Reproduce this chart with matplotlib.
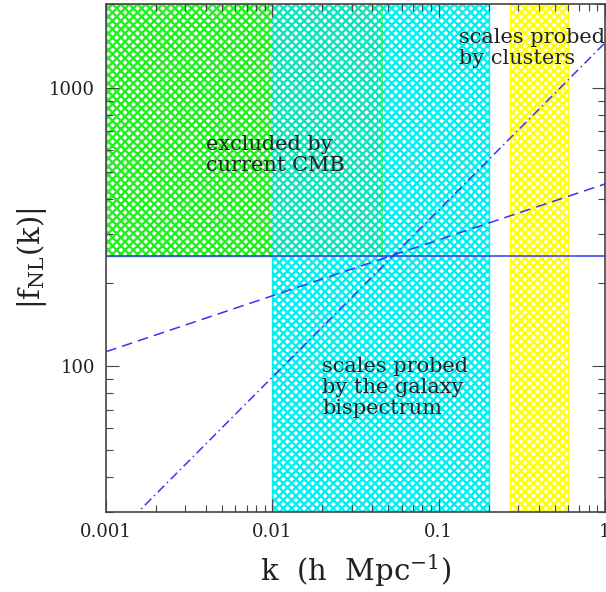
import matplotlib
matplotlib.use("Agg")
import matplotlib.pyplot as plt
from matplotlib.ticker import FixedLocator, FixedFormatter, LogLocator, NullFormatter

# band limits in k (h/Mpc)
CMB_K = [0.001, 0.046]
GALAXY_K = [0.01, 0.2]
CLUSTER_K = [0.27, 0.6]
CMB_LIMIT = 250

# f_NL(k) curves (end points, power laws are straight on log-log)
K_LINE = [0.001, 1.0]
F_CONST = [250, 250]
F_DASHED = [113, 452]
F_DASHDOT = [23, 1450]

XTICKS = [0.001, 0.01, 0.1, 1]
XTICK_LABELS = ["0.001", "0.01", "0.1", "1"]
YTICKS = [100, 1000]
YTICK_LABELS = ["100", "1000"]

XLIM = (0.001, 1.0)
YLIM = (30, 2000)

plt.rcParams["font.family"] = "DejaVu Serif"
plt.rcParams["mathtext.fontset"] = "dejavuserif"
plt.rcParams["hatch.linewidth"] = 1.7

fig = plt.figure(figsize=(6.06, 5.92), dpi=100)
ax = fig.add_axes([0.175, 0.135, 0.823, 0.858])
ax.set_xscale("log")
ax.set_yscale("log")
ax.set_xlim(*XLIM)
ax.set_ylim(*YLIM)

GREEN = "#22ee22"
CYAN = "#00f0f0"
TEAL = "#10e2bc"
YELLOW = "#ffff00"
BLUE = "#3535f5"

# shaded regions
ax.fill_between(CMB_K, CMB_LIMIT, YLIM[1], facecolor="white", edgecolor=GREEN,
                hatch="xxxx", linewidth=1.0, zorder=1)
ax.axvspan(*GALAXY_K, facecolor="white", edgecolor=CYAN, hatch="xxxx",
           linewidth=1.0, zorder=1)
ax.fill_between([GALAXY_K[0], CMB_K[1]], CMB_LIMIT, YLIM[1], facecolor="white",
                edgecolor=TEAL, hatch="xxxx", linewidth=0.0, zorder=1.5)
ax.plot([CMB_K[1], CMB_K[1]], [CMB_LIMIT, YLIM[1]], color=GREEN, lw=0.6,
        alpha=0.7, zorder=1.6)
ax.axvspan(*CLUSTER_K, facecolor="white", edgecolor=YELLOW, hatch="xxxx",
           linewidth=1.0, zorder=1)

# curves
ax.plot(K_LINE, F_CONST, color=BLUE, lw=1.1, zorder=3)
ax.plot(K_LINE, F_DASHED, color=BLUE, lw=1.1, dashes=(7, 4), zorder=3)
ax.plot(K_LINE, F_DASHDOT, color=BLUE, lw=1.1, dashes=(6, 2.5, 1, 2.5), zorder=3)

txt = dict(fontsize=15, color="#222222", zorder=4, linespacing=1.15)
ax.text(0.0040, 574, "excluded by\ncurrent CMB", va="center", ha="left", **txt)
ax.text(0.132, 1394, "scales probed\nby clusters", va="center", ha="left", **txt)
ax.text(0.020, 84, "scales probed\nby the galaxy\nbispectrum", va="center", ha="left", **txt)

# ticks
ax.xaxis.set_major_locator(FixedLocator(XTICKS))
ax.xaxis.set_major_formatter(FixedFormatter(XTICK_LABELS))
ax.yaxis.set_major_locator(FixedLocator(YTICKS))
ax.yaxis.set_major_formatter(FixedFormatter(YTICK_LABELS))
for a in (ax.xaxis, ax.yaxis):
    a.set_minor_locator(LogLocator(base=10, subs=range(2, 10)))
    a.set_minor_formatter(NullFormatter())

ax.tick_params(which="both", direction="in", top=True, right=True,
               color="#444444", width=0.8, labelsize=13, labelcolor="#222222", zorder=5)
ax.tick_params(which="major", length=9.5, pad=8)
ax.tick_params(which="minor", length=4.8)
for s in ax.spines.values():
    s.set_color("#444444")
    s.set_linewidth(1.2)
    s.set_zorder(5)

ax.set_xlabel(r"k  (h  Mpc$^{-1}$)", fontsize=21, color="#222222", labelpad=8)
ax.set_ylabel(r"$|\mathrm{f}_{\mathrm{NL}}(\mathrm{k})|$", fontsize=21,
              color="#222222", labelpad=0)

fig.savefig("out.png", dpi=100)
